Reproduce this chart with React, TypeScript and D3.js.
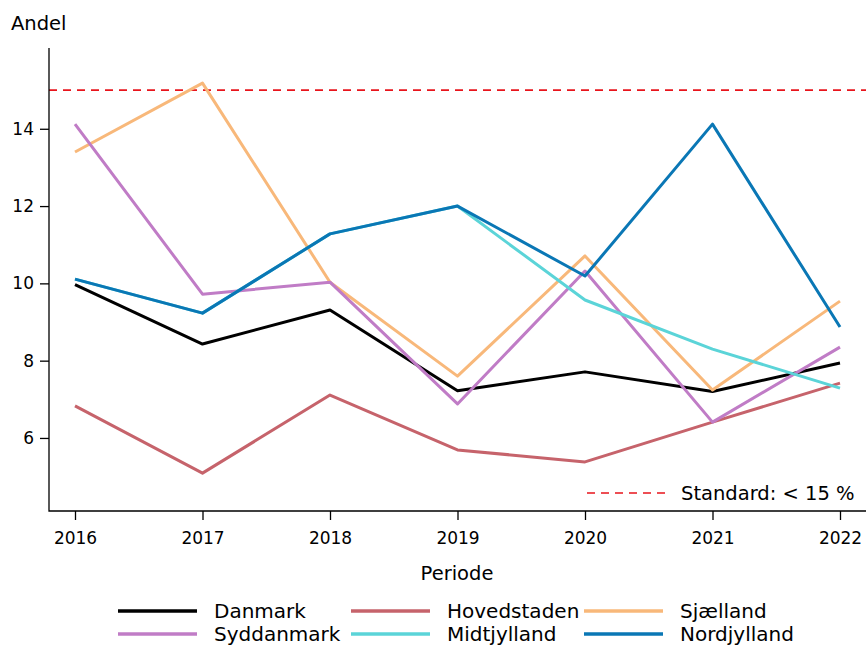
import React, { useEffect, useRef } from "react";
import * as d3 from "d3";

const years = [2016, 2017, 2018, 2019, 2020, 2021, 2022];
const regions = ["Danmark", "Hovedstaden", "Sjælland", "Syddanmark", "Midtjylland", "Nordjylland"];
const colors = ["#000000", "#c6636b", "#f8b87a", "#c07cc6", "#5bd4d8", "#0a77b5"];

const danmark = [9.97, 8.43, 9.31, 7.22, 7.71, 7.2, 7.94];
const hovedstaden = [6.83, 5.09, 7.11, 5.69, 5.38, 6.41, 7.42];
const sjaelland = [13.4, 15.18, 10.03, 7.6, 10.71, 7.24, 9.54];
const syddanmark = [14.12, 9.72, 10.03, 6.88, 10.32, 6.41, 8.35];
const midtjylland = [10.11, 9.23, 11.28, 12.0, 9.57, 8.3, 7.29];
const nordjylland = [10.11, 9.23, 11.28, 12.0, 10.19, 14.12, 8.87];

const seriesValues = [danmark, hovedstaden, sjaelland, syddanmark, midtjylland, nordjylland];
const yTicks = [6, 8, 10, 12, 14];
const standard = 15;

const App = () => {
  const svgRef = useRef<SVGSVGElement>(null);

  useEffect(() => {
    const width = 867;
    const height = 646;
    const margin = { top: 48, right: 1, bottom: 135, left: 49 };
    const innerWidth = width - margin.left - margin.right;
    const innerHeight = height - margin.top - margin.bottom;
    const font = "DejaVu Sans, sans-serif";

    const svg = d3.select(svgRef.current);
    svg.selectAll("*").remove();
    svg
      .attr("width", width)
      .attr("height", height)
      .style("position", "absolute")
      .style("left", "0px")
      .style("top", "0px")
      .style("display", "block");

    const x = d3.scaleLinear().domain([2016, 2022]).range([26, 791]);
    const y = d3.scaleLinear().domain([4.11, 16.09]).range([innerHeight, 0]);

    const g = svg.append("g").attr("transform", `translate(${margin.left},${margin.top})`);

    // standard line
    g.append("line")
      .attr("x1", 0)
      .attr("x2", innerWidth)
      .attr("y1", y(standard))
      .attr("y2", y(standard))
      .attr("stroke", "#e8141c")
      .attr("stroke-width", 1.6)
      .attr("stroke-dasharray", "8,6");

    // lines
    const line = d3
      .line<number>()
      .x((d, i) => x(years[i]))
      .y((d) => y(d));

    seriesValues.forEach((vals, i) => {
      g.append("path")
        .datum(vals)
        .attr("fill", "none")
        .attr("stroke", colors[i])
        .attr("stroke-width", 3)
        .attr("stroke-linejoin", "round")
        .attr("d", line);
    });

    // axes
    const yAxis = g.append("g").call(d3.axisLeft(y).tickValues(yTicks).tickSize(9).tickPadding(6));
    const xAxis = g
      .append("g")
      .attr("transform", `translate(0,${innerHeight})`)
      .call(d3.axisBottom(x).tickValues(years).tickFormat(d3.format("d")).tickSize(9).tickPadding(12));

    [xAxis, yAxis].forEach((a) => {
      a.select(".domain").remove();
      a.selectAll("line").attr("stroke", "#000").attr("stroke-width", 1.3);
      a.selectAll("text").attr("font-family", font).attr("font-size", 17).attr("fill", "#000");
    });

    // axis lines
    g.append("path")
      .attr("d", `M0,0V${innerHeight}H${innerWidth}`)
      .attr("fill", "none")
      .attr("stroke", "#000")
      .attr("stroke-width", 1.3);

    svg.append("text")
      .attr("x", 11)
      .attr("y", 30)
      .attr("font-family", font)
      .attr("font-size", 19.5)
      .text("Andel");

    svg.append("text")
      .attr("x", 457)
      .attr("y", 580)
      .attr("text-anchor", "middle")
      .attr("font-family", font)
      .attr("font-size", 19.5)
      .text("Periode");

    // standard legend
    const sl = svg.append("g").attr("transform", "translate(587,493)");
    sl.append("line")
      .attr("x1", 0)
      .attr("x2", 80)
      .attr("stroke", "#e8141c")
      .attr("stroke-width", 1.6)
      .attr("stroke-dasharray", "8,6");
    sl.append("text")
      .attr("x", 94)
      .attr("y", 7)
      .attr("font-family", font)
      .attr("font-size", 19.5)
      .text("Standard: < 15 %");

    // series legend
    const legend = svg
      .append("g")
      .selectAll("g")
      .data(regions)
      .enter()
      .append("g")
      .attr("transform", (d, i) => `translate(${118 + (i % 3) * 233},${611 + Math.floor(i / 3) * 23})`);

    legend
      .append("line")
      .attr("x1", 0)
      .attr("x2", 79)
      .attr("stroke", (d, i) => colors[i])
      .attr("stroke-width", 3.5);

    legend
      .append("text")
      .attr("x", 96)
      .attr("y", 7)
      .attr("font-family", font)
      .attr("font-size", 20)
      .text((d) => d);
  }, []);

  return <svg ref={svgRef}></svg>;
};

export default App;
